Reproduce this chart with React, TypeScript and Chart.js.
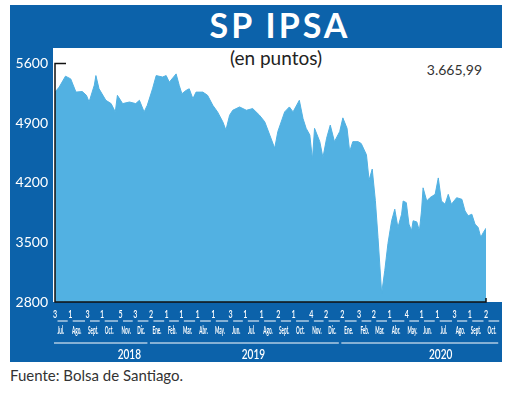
import { useEffect, useRef } from "react";
import { Chart, registerables } from "chart.js";

Chart.register(...registerables);

// Days elapsed since 3 Jul 2018 (first session shown) and IPSA close
const sessionDays = [
  0, 8, 20, 30, 40, 52, 60, 65, 75, 78, 84, 97, 107, 115, 119, 129, 142, 154, 161, 170,
  176, 186, 193, 205, 212, 218, 231, 237, 242, 250, 256, 263, 269, 282, 291, 301, 310, 320, 326, 333,
  339, 352, 365, 377, 390, 400, 406, 419, 425, 438, 447, 454, 466, 473, 479, 486, 491, 495, 505, 511,
  518, 525, 533, 543, 549, 557, 562, 568, 578, 584, 594, 599, 605, 611, 616, 623, 629, 635, 642, 648,
  654, 661, 664, 670, 675, 680, 683, 690, 695, 699, 702, 709, 715, 725, 731, 737, 744, 750, 756, 766,
  776, 782, 788, 795, 801, 807, 812, 817, 822,
];
const ipsaValues = [
  5263, 5322, 5450, 5418, 5263, 5270, 5225, 5147, 5345, 5457, 5302, 5167, 5128, 5031, 5225, 5128, 5147, 5128, 5167, 5031,
  5108, 5302, 5457, 5440, 5457, 5380, 5477, 5340, 5244, 5283, 5302, 5186, 5263, 5263, 5225, 5108, 5031, 4915, 4818, 4992,
  5050, 5089, 5050, 5070, 4992, 4915, 4818, 4605, 4800, 5031, 5089, 5031, 5167, 4953, 4838, 4760, 4470, 4838, 4682, 4495,
  4722, 4876, 4682, 4800, 4961, 4838, 4566, 4682, 4682, 4660, 4528, 4230, 4360, 3990, 3559, 2901, 3172, 3486, 3753, 3889,
  3675, 3830, 3985, 3966, 3714, 3637, 3753, 3740, 3637, 3869, 4140, 3985, 4024, 4063, 4256, 3985, 3947, 4063, 3947, 4024,
  4005, 3869, 3811, 3830, 3714, 3675, 3559, 3617, 3666,
];

// First session of each month (days since 3 Jul 2018), plus the start of Nov 2020 as closing boundary
const monthBoundaryDays = [
  0, 29, 62, 90, 125, 153, 183, 213, 241, 272, 302, 335, 363, 394, 426, 455, 489, 517,
  548, 580, 608, 638, 671, 699, 729, 762, 791, 822, 852,
];
const monthDayLabels = [
  "3", "1", "3", "1", "5", "3", "2", "1", "1", "1", "1", "3", "1", "1", "2", "1", "4", "2",
  "2", "3", "2", "1", "4", "1", "1", "3", "1", "2",
];
const monthNames = [
  "Jul.", "Ago.", "Sept.", "Oct.", "Nov.", "Dic.",
  "Ene.", "Feb.", "Mar.", "Abr.", "May.", "Jun.", "Jul.", "Ago.", "Sept.", "Oct.", "Nov.", "Dic.",
  "Ene.", "Feb.", "Mar.", "Abr.", "May.", "Jun.", "Jul.", "Ago.", "Sept.", "Oct.",
];
const yearLabels = ["2018", "2019", "2020"];
const yearFirstMonth = [0, 6, 18];
const yTickValues = [2800, 3500, 4200, 4900, 5600];

const TITLE = "SP IPSA";
const SUBTITLE = "(en puntos)";
const LAST_VALUE = "3.665,99";
const SOURCE = "Fuente: Bolsa de Santiago.";

const FRAME = "#0c62aa";
const FILL = "#52b1e2";
// where each year label sits, as a fractional month index
const yearLabelAnchor = [4.6, 12.5, 24.2];

function squeezedText(ctx: CanvasRenderingContext2D, text: string, x: number, y: number, font: string, sx: number) {
  ctx.save();
  ctx.translate(x, y);
  ctx.scale(sx, 1);
  ctx.font = font;
  ctx.textAlign = "center";
  ctx.textBaseline = "middle";
  ctx.fillText(text, 0, 0);
  ctx.restore();
}

const axesPlugin = {
  id: "ipsaAxes",
  afterDraw(chart: any) {
    const { ctx, chartArea } = chart;
    const { left, right, top, bottom } = chartArea;
    const xs = chart.scales.x;
    ctx.save();
    ctx.strokeStyle = "#111";
    ctx.lineWidth = 1.5;
    ctx.beginPath();
    ctx.moveTo(left + 11, top);
    ctx.lineTo(left, top);
    ctx.lineTo(left, bottom);
    ctx.lineTo(right, bottom);
    ctx.lineTo(right, bottom - 4);
    ctx.stroke();

    const px = monthBoundaryDays.map((d) => xs.getPixelForValue(d));
    ctx.fillStyle = "#fff";
    ctx.strokeStyle = "#fff";
    ctx.lineWidth = 1;
    const rowNum = bottom + 12.5;
    const rowLine = bottom + 19;
    const rowMonth = bottom + 28.5;
    const rowYearLine = bottom + 41;
    const rowYear = bottom + 52;
    for (let i = 0; i < monthNames.length; i++) {
      const a = px[i];
      const b = px[i + 1];
      squeezedText(ctx, monthDayLabels[i], a, rowNum, "600 10.5px Lato", 0.68);
      ctx.beginPath();
      ctx.moveTo(a + 2.5, rowLine);
      ctx.lineTo(b - 2.5, rowLine);
      ctx.stroke();
      squeezedText(ctx, monthNames[i], a + 0.38 * (b - a), rowMonth, "700 11px Lato", 0.42);
    }
    for (let j = 0; j < yearLabels.length; j++) {
      const s = px[yearFirstMonth[j]];
      const endIdx = j + 1 < yearFirstMonth.length ? yearFirstMonth[j + 1] : monthBoundaryDays.length - 1;
      const e = px[endIdx];
      ctx.beginPath();
      ctx.moveTo(s - 1, rowYearLine);
      ctx.lineTo(e - 3.5, rowYearLine);
      ctx.stroke();
      const anc = yearLabelAnchor[j];
      const k = Math.floor(anc);
      const cx = px[k] + (anc - k) * (px[k + 1] - px[k]);
      squeezedText(ctx, yearLabels[j], cx, rowYear, "600 14px Lato", 0.72);
    }
    ctx.restore();
  },
};

function IpsaChart() {
  const ref = useRef<HTMLCanvasElement | null>(null);
  useEffect(() => {
    if (!ref.current) return;
    const chart = new Chart(ref.current, {
      type: "line",
      data: {
        datasets: [
          {
            data: sessionDays.map((d, i) => ({ x: d, y: ipsaValues[i] })),
            fill: "start",
            backgroundColor: FILL,
            borderColor: FILL,
            borderWidth: 1,
            pointRadius: 0,
            tension: 0,
          },
        ],
      },
      options: {
        responsive: false,
        animation: false,
        devicePixelRatio: 1,
        layout: { padding: { top: 13, right: 34, bottom: 60, left: 0 } },
        plugins: { legend: { display: false }, tooltip: { enabled: false } },
        scales: {
          x: { type: "linear", min: 0, max: 822, display: false },
          y: {
            min: 2800,
            max: 5600,
            afterBuildTicks: (s: any) => {
              s.ticks = yTickValues.map((v) => ({ value: v }));
            },
            afterFit: (s: any) => {
              s.width = 45;
            },
            grid: { display: false, drawTicks: false },
            border: { display: false },
            ticks: {
              color: "#ffffff",
              font: { family: "Lato", size: 14 },
              padding: 7,
              callback: (v: any) => String(v),
            },
          },
        },
      },
      plugins: [axesPlugin],
    } as any);
    return () => chart.destroy();
  }, []);
  return (
    <canvas
      ref={ref}
      width={510}
      height={314}
      style={{ position: "absolute", left: 10, top: 48, width: 510, height: 314 }}
    />
  );
}

export default function App() {
  return (
    <div
      style={{
        position: "fixed",
        left: 0,
        top: 0,
        width: 520,
        height: 398,
        background: "#fff",
        overflow: "hidden",
        fontFamily: "Lato, sans-serif",
      }}
    >
      <div style={{ position: "absolute", left: 10, top: 5, width: 492, height: 357, background: FRAME }} />
      <div style={{ position: "absolute", left: 53, top: 48, width: 467, height: 254, background: "#fff" }} />
      <div
        style={{
          position: "absolute",
          left: 180,
          width: 200,
          top: 8,
          textAlign: "center",
          color: "#fff",
          fontWeight: 700,
          fontSize: 34,
          lineHeight: 1,
          letterSpacing: 3,
          whiteSpace: "nowrap",
        }}
      >
        {TITLE}
      </div>
      <div
        style={{
          position: "absolute",
          left: 176,
          width: 200,
          top: 48,
          textAlign: "center",
          color: "#222",
          fontSize: 19,
          lineHeight: 1,
          whiteSpace: "nowrap",
        }}
      >
        {SUBTITLE}
      </div>
      <div
        style={{
          position: "absolute",
          right: 38,
          top: 62.5,
          color: "#333",
          fontSize: 14,
          lineHeight: 1,
          whiteSpace: "nowrap",
        }}
      >
        {LAST_VALUE}
      </div>
      <IpsaChart />
      <div
        style={{
          position: "absolute",
          left: 10,
          top: 367.5,
          color: "#333",
          fontSize: 15,
          lineHeight: 1,
          whiteSpace: "nowrap",
        }}
      >
        {SOURCE}
      </div>
    </div>
  );
}
